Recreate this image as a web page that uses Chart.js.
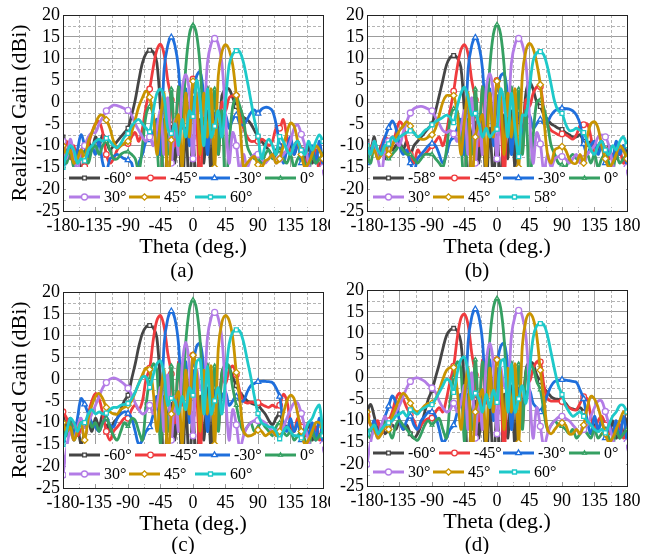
<!DOCTYPE html>
<html>
<head>
<meta charset="utf-8">
<script src="https://cdn.jsdelivr.net/npm/chart.js@4.4.1/dist/chart.umd.min.js"></script>
<style>
    body { margin: 0; background: #fff; width: 648px; height: 554px; position: relative; overflow: hidden;
           font-family: 'Liberation Serif', 'Times New Roman', serif; }
    canvas { position: absolute; }
    .cap { position: absolute; font-size: 21px; transform: translate(-50%, -50%); color: #000; }
</style>
</head>
<body>
<canvas id="chartA" width="330" height="260" style="left:0;top:0"></canvas>
<canvas id="chartB" width="318" height="260" style="left:330px;top:0"></canvas>
<canvas id="chartC" width="330" height="260" style="left:0;top:277px"></canvas>
<canvas id="chartD" width="318" height="260" style="left:330px;top:275px"></canvas>
<div class="cap" style="left:182px;top:270px">(a)</div>
<div class="cap" style="left:477px;top:270px">(b)</div>
<div class="cap" style="left:183px;top:544px">(c)</div>
<div class="cap" style="left:477px;top:544px">(d)</div>
<script>
// theta grid (deg.)
const theta = [-180,-175,-170,-165,-160,-155,-150,-145,-140,
    -135,-130,-125,-120,-115,-110,-105,-100,-95,
    -90,-85,-80,-75,-70,-65,-60,-55,-50,
    -45,-40,-35,-30,-25,-20,-15,-10,-5,
    0,5,10,15,20,25,30,35,40,
    45,50,55,60,65,70,75,80,85,
    90,95,100,105,110,115,120,125,130,
    135,140,145,150,155,160,165,170,175,
    180];

const labelsStd = ['-60°', '-45°', '-30°', '0°', '30°', '45°', '60°'];
const labelsB = ['-58°', '-45°', '-30°', '0°', '30°', '45°', '58°'];

// (a)
const a_m60 = [-8,-12,-9,-14,-11,-16,-12,-9,-11, -8,-10,-7.5,-9,-11,-10,-9,-8,-7, -6,-3,0.5,5,9,11.2,11.9,11.5,9, -2,-22,-9,-5,-14,-4,-22,-6,-20, -8,-22,-4,-14,-2,-16,0,-9,1.5, 3,3,1,-1,-2.5,-3.5,-4,-5,-6.5, -8,-9,-10,-11,-12,-11,-10,-12,-11, -10,-12,-10,-11,-13,-10,-14,-11,-15, -12];
const a_m45 = [-11,-9,-13,-10,-14,-12,-14.8,-10,-7, -5,-4.5,-7,-12,-14,-13,-11,-10,-9.5, -9.5,-8,-7,-9,-6,-1,3,8,12, 13.3,11,5,0.5,-10,3.5,-6,2,-6, 5.3,-4,-20,2,-10,-6,1,-12,0, -2,1,1.5,1.5,-3,-6,-8,-9,-9, -9,-8.5,-9,-10,-9,-6,-6,-4,-8, -12,-10,-9,-11,-14,-12,-13,-11,-16, -14];
const a_m30 = [-14,-12,-10,-14,-11,-7.5,-10,-13,-10, -12,-9,-14,-16,-13,-12.5,-12,-12.5,-13, -13.3,-14,-18,-14,-12,-9,-8.7,-7,-4, -12,7.5,13,14.9,13,7.5,-5,3,-10, 1.7,6,7,1,-12,-3,-2,-8,-4, -3,-6,-4,-3,-5,-5.2,-4,-2.5,-1.8, -2.6,-1.6,-1.2,-1.3,-2,-5,-10,-14,-11, -8,-12,-9,-14,-11,-13,-10,-14,-9, -15];
const a_0 = [-12,-14,-11,-15,-13,-11,-12,-14,-11, -10,-12,-10,-9,-11,-13,-13,-12,-11.5, -11.4,-12,-13,-16,-10,-3,-1,-3,-10, -20,-4,-12,3,-8,3.5,-5,8,15.5, 17.7,15.5,8,-5,3.5,-8,3,-12,-2, -20,-10,-1,1,-1,-4,-10,-12,-13, -13,-14,-12,-11,-13,-12,-11,-13,-14, -12,-15,-13,-12,-14,-16,-12,-14,-13, -12];
const a_30 = [-9,-13,-8.5,-12,-16,-11,-10,-8,-7, -7,-5,-3.5,-2,-1.2,-0.7,-0.8,-1.1,-1.5, -1.9,-3,-5,-6.5,-8,-9,-8,-10,-6, -2,-12,1,-14,-4,-12,3,6.3,2, -13,2,-2,-3,9,13.3,14.6,13.3,9, -3,-14,-7,-10,-16,-12,-15,-13,-12, -12,-13,-14,-13,-12,-14,-13,-12,-11, -9,-6,-5.2,-7.4,-10,-14,-17,-20,-18, -15];
const a_45 = [-10,-12,-11,-14,-13,-11,-13,-9,-7, -5,-3.2,-3,-4.1,-6,-9,-10.6,-10,-9.5, -9,-7,-4,-1,1,2.5,1.1,-3,-12, -4,2,-20,-8.7,-5,-3,-15,2,-8, 4.8,1,-12,2,-8,3,-15,6,11.5, 13.2,12,8.5,1.6,-5,-15,-14,-13,-12.5, -14.4,-15,-13.5,-13,-12,-14,-13,-10,-7, -4.8,-5.5,-9,-12,-15,-14,-12,-10,-11, -13];
const a_60 = [-15,-12,-10,-11,-14,-13,-13.5,-11,-10, -9,-8.5,-9,-8.3,-9,-10,-10.5,-9.5,-8, -7.2,-5.5,-4.5,-4,-5,-6,-6.8,-2,2, 3,1,-6,-7.2,-5,-10,-4,-8,-2, -3.3,5,0,-10,3,-8,-5.5,-2,-8, 0,8.5,11,11.8,11.5,9,5,0.5,-4, -7.8,-13,-10,-8.5,-10,-12,-7.9,-9,-11, -12,-10,-9,-11,-12,-9,-11,-9,-7.5, -9];

// (b)
const b_m58 = [-9,-11,-8,-12,-10,-13,-9,-11,-10, -9,-11,-9,-12,-10,-9,-8,-7,-6, -5,-2,1.5,5,8.5,10.2,10.7,10.2,8, -3,-20,-8,-4,-14,-3,-20,-6,-18, -7,-20,-3,-13,-2,-15,0,-8,2, 4.5,3,0,-1,-3,-4,-5,-5.5,-6, -6.3,-7,-7.5,-8,-8,-7.5,-9,-10,-9, -10,-11,-9,-12,-10,-13,-11,-12,-10, -12];
const b_m45 = [-10,-12,-9,-13,-10,-8,-9,-10,-7, -4.5,-5.5,-9,-12,-14,-11,-12,-12,-11, -10,-9,-8,-10,-7,-2,2.5,8,12, 13.2,11,5,0.5,-10,3.5,-6,2,-6, 5,-3,-18,2,-9,-5,1,-11,0.5, -1,2,3.5,3.5,-2,-5,-6.5,-7,-7.5, -7.3,-7.5,-8,-8.5,-7.5,-5.5,-5.2,-5,-8, -12,-10,-9,-11,-13,-12,-13,-11,-14, -13];
const b_m30 = [-14,-11,-10,-13,-11,-8,-5.9,-4.3,-6, -10,-12,-11,-14,-16,-13,-12,-11,-10, -9.5,-10,-12,-14,-12,-9,-8,-6,-4, -12,7.5,13,14.8,13,7.5,-5,3,-10, 2,6,6.5,1,-12,-3,-2,-8,-4, -3,-6,-5,-4,-5,-4.5,-3,-2,-1.6, -1.4,-1.5,-1.6,-2,-3,-5,-9.6,-12,-10, -9,-12,-10,-14,-11,-13,-9,-12,-10, -15];
const b_0 = [-12,-14,-10,-13,-12,-11,-13,-12,-11, -10,-11,-12,-12,-13,-14,-13,-12,-12, -12,-13,-14,-15,-11,-4,-1.5,-2,-9, -20,-4,-12,3,-8,3.5,-5,8,15.6, 17.8,15.6,8,-5,3.5,-8,3,-12,-2, -20,-8,0,0.5,-1.5,-5,-10,-12,-14, -14.4,-15,-13,-12,-13,-13.3,-13.3,-12,-14, -12,-15,-13,-12,-14,-16,-12,-14,-13, -12];
const b_30 = [-10,-12,-9,-13,-16,-11,-9,-8,-9, -10,-7,-4.5,-2.5,-1.5,-1.1,-1,-1.2,-1.6, -2,-3.5,-5,-6.5,-7,-6.5,-7.3,-9,-6, -2,-12,1,-14,-4,-12,3,6.5,2, -13,2,-2,-3,9,13.3,14.6,13.3,9, -3,-14,-7,-9.6,-16,-12,-15,-13,-12.5, -12.5,-13,-14,-13,-12,-14,-13,-12,-11, -10,-8,-7.5,-8,-10,-14,-17,-20,-18, -15];
const b_45 = [-10,-12,-11,-13,-12,-10,-12,-10,-8, -6.5,-5.5,-4.5,-5.5,-7,-8,-8.5,-8.5,-8, -7.5,-6,-3,0,1.5,1.5,1.5,-3,-12, -4,2,-20,-8,-5,-3,-15,2,-8, 4.8,1,-12,2,-8,3,-15,6,11.8, 13.5,12.3,9,4,-4,-12,-14,-11,-10.5, -10.2,-11,-13,-14,-14,-12,-14,-8,-5, -4.5,-6,-10,-13,-15,-14,-12,-10,-11, -13];
const b_58 = [-10,-12,-9,-11,-12,-10,-9.6,-8,-9, -8,-7.5,-7,-6.6,-7,-8,-7.5,-6.5,-6, -5.2,-4.5,-4,-3.5,-3,-3.5,-4.7,-1,2, 3.4,1,-3,-2.6,-5,-8,-6,-8,-7, -6.2,3,0,-8,2,-6,-12.5,-3,-3, 3,9.5,11.3,11.6,10.8,8,4,0,-2, -2.6,-5,-6.5,-6.5,-6,-6.5,-7,-9,-11, -12,-10,-9,-11,-12,-10,-11,-9,-8, -10];

// (c)
const c_m60 = [-8,-11,-9,-13,-11,-15,-12,-10,-12, -9,-11,-8,-10,-12,-10,-9,-7,-5, -3.7,0,3.5,7.5,10.5,12,12.3,11.8,9.5, -2,-22,-9,-5,-14,-4,-22,-6,-20, -8,-22,-4,-14,-2,-16,0,-9,1.5, 3,2.5,0.5,-1.5,-3,-4,-5,-5.5,-5.8, -6,-7,-8,-9.5,-10.5,-9,-8,-10,-11, -11,-12,-10,-11,-13,-10,-14,-11,-13, -12];
const c_m45 = [-7.5,-9,-12,-10,-13,-11.5,-11.5,-8,-5, -3.3,-4.5,-8,-12,-14,-12,-11,-10,-9, -9,-7,-6,-7,-5,0,2.5,9,13.5, 14.6,12,6,1.2,-10,4,-6,2,-6, 5.5,-3,-18,2,-9,-5,1,-11,0.5, -1,2,3,1,-3,-5,-5.5,-5.3,-5.4, -5.4,-5.8,-6.2,-6.5,-6,-6.5,-6,-3.5,-5, -10,-12,-9,-11,-13,-12,-13,-11,-14, -12];
const c_m30 = [-14,-12,-10,-13,-9,-4.5,-5.8,-8,-10, -11,-12,-10,-9,-10.5,-11,-9,-8,-7.5, -7.9,-9,-12,-15,-14,-12,-11,-8,-4, -12,8,13.8,15.6,13.8,8,-5,4,-10, 2.5,7.5,8.2,2,-12,-3,-2,-8,-4, -3,-6,-5,-4,-5,-5,-3,-1.5,-1, -0.6,-0.5,-0.5,-0.6,-0.8,-2,-4,-10,-12, -9,-12,-10,-14,-11,-13,-10,-14,-9, -15];
const c_0 = [-11,-13,-10,-14,-12,-10,-12,-9,-11, -10,-12,-10,-9,-11,-13,-14,-12,-10, -10.8,-9,-9.5,-12,-14,-6,0,3.5,2, -15,-4,-12,3,-8,3.5,-5,8.5,16, 18.2,16,8.5,-5,3.5,-8,3,-12,1, 3.5,3,-2,-6,-10,-12,-11,-10,-12, -11,-10,-11,-12,-13,-11,-10,-12,-13, -12,-14,-13,-12,-14,-16,-12,-14,-13, -12];
const c_30 = [-22,-16,-12,-14,-11,-9,-12,-10,-8, -6,-4,-2,-0.8,0,0.3,0,-0.5,-1.2, -2.1,-3.5,-5.5,-7,-8,-7.5,-6,-8,-6, -2,-12,1,-14,-4,-12,3,8.5,3, -13,2,-2,-3,9.5,14,15.3,14,9.5, -3,-14,-7,-10.5,-16,-13,-11,-10,-9.5, -9.5,-9.5,-10,-11,-12,-13,-12,-11,-9, -7,-5.5,-5.5,-7.9,-11,-14,-17,-20,-18, -15];
const c_45 = [-10,-12,-11,-14,-12,-10,-14,-9,-6, -4,-3.3,-4.5,-6.5,-7.5,-8,-8,-7,-6.5, -6,-5,-3,-1,1,2.5,2.2,-3,-12, -4,2,-20,-8,-5,-3,-15,2,-8, 5.5,1,-12,2,-8,3,-15,7,13, 14.6,13.5,9.5,1.5,-5,-12,-13,-13,-12.5, -11.7,-12,-13,-12.5,-12,-13,-12,-8,-5, -3.7,-4.5,-8,-12,-15,-14,-12,-10,-10, -11];
const c_60 = [-15,-12,-9,-10,-12,-10,-10,-8,-7, -8,-7.5,-8,-7.8,-7,-6.5,-6.5,-6,-5.8, -5.6,-4.5,-3,-1,0.5,0.5,-1.9,1,3.5, 4.2,1,-6,-4.4,-5,-8,-4,-7,-2, -3.7,4,4.5,-8,3,-8,-5,-2,-8, 0,8,10.8,11.3,11,8.5,4.5,0.5,-4, -7.9,-10,-10.5,-11,-11,-12,-13.7,-12,-11, -12,-13,-13,-13.5,-12,-10,-9,-7,-6, -13];

// (d)
const d_m60 = [-8,-6.3,-9,-12,-11,-13,-12,-11,-12, -10,-12,-11,-13,-14,-13,-11,-8,-5, -3,0,3,6.5,9.5,10.8,11.2,10.6,8, -3,-22,-9,-5,-14,-4,-22,-6,-20, -8,-22,-4,-14,-2,-16,0,-9,1.5, 3.5,3,0.5,-1,-2.5,-3.5,-4.5,-5,-5.1, -5.2,-6,-7,-7.3,-7.5,-7,-8,-10,-11, -11,-12,-10,-11,-13,-10,-14,-11,-13, -9];
const d_m45 = [-9,-11,-12,-10,-13,-11,-10,-8,-5, -3.7,-5,-7,-8.6,-10,-12,-11,-10,-9.5, -9.4,-8,-7,-8,-5,-1,2.5,9,13.5, 14.5,12,5.5,0.5,-10,4,-6,2,-6, 4,-3,-18,2,-9,-5,1,-11,0.5, -1,2,3.5,3.5,-2,-5,-5.5,-5.5,-5.5, -5.6,-6.5,-7,-7.5,-7.5,-6,-4.5,-5,-9, -12,-10,-9,-11,-13,-12,-13,-11,-14, -12];
const d_m30 = [-13,-12,-10,-13,-11,-9,-6.7,-4.3,-6, -10,-12,-10,-9,-11,-12,-10,-9,-8, -8,-9,-12,-15,-14,-12,-11,-8,-4, -12,8,13.8,15.6,13.8,8,-5,4,-10, 2.5,7,7.8,2,-12,-3,-2,-8,-4, -3,-6,-7,-8,-6,-4,-2,-1,-0.7, -0.6,-0.7,-0.8,-1,-1.2,-3,-5,-10,-13, -9,-12,-10,-14,-11,-13,-10,-14,-9, -15];
const d_0 = [-12,-14,-11,-13,-12,-10,-12,-14,-11, -10,-11,-12,-13,-14,-14.5,-13,-11,-10, -11,-10,-9.5,-12,-14,-6,0,3.5,2, -15,-4,-12,4,-8,3.5,-5,8.5,15.9, 18.1,15.9,8.5,-5,3.5,-8,3,-12,1, 3,2,-1,-2.9,-8,-12,-11,-10,-11, -11.3,-12,-13,-12,-14,-13,-12,-13,-14, -12,-14,-13,-12,-14,-16,-12,-14,-13, -12];
const d_30 = [-20,-15,-12,-14,-11,-9,-11,-10,-8, -6.5,-4.5,-2.5,-1,-0.3,-0.2,-0.5,-1,-1.8, -2.5,-3.5,-5.5,-7,-8,-7.5,-6,-8,-6, -2,-12,1,-14,-4,-12,3,7.8,3, -13,2,-2,-3,9.5,14,15.3,14,9.5, -3,-14,-7,-11.3,-16,-13,-11,-10,-9.2, -9,-9.5,-10,-11,-12,-13,-12,-11,-9, -7,-5.5,-5.5,-7.9,-11,-14,-17,-20,-18, -15];
const d_45 = [-8,-11,-12,-14,-13,-11,-12,-9,-7, -5,-3.7,-4.5,-6,-7.5,-8,-7.5,-6.5,-6, -6,-5,-3,-0.5,1.5,2.2,2.2,-3,-12, -4,2,-20,-8,-5,-3,-15,2,-8, 4,1,-12,2,-8,3,-15,7,13, 14.6,13.5,9.5,1.6,-5,-12,-13,-12,-11, -10.5,-11,-13,-13,-12,-13,-11,-7,-4.4, -5,-7,-10,-13,-15,-14,-12,-10,-8, -8];
const d_60 = [-13,-12,-11,-13,-12,-11,-10.5,-10,-9, -8.5,-8,-9,-7.5,-8,-8.5,-7.5,-7,-6.5, -6.3,-5,-3.5,-2,-0.5,-1,-3.5,1,4, 4.6,1,-5,-3.7,-5,-8,-4,-7,-3, -5.8,3.5,4,-8,3,-8,-5,-2,-6, 1.5,9,11.8,12.3,12,9.5,5.5,1.5,-2, -4,-6.5,-8,-9,-8.5,-8,-9,-10,-11, -12,-12.5,-12,-12.8,-11,-9,-8,-6.5,-6.5, -8];

const seriesColors = ['#454545', '#ef3b3e', '#1f6fdc', '#35a062', '#b37ce6', '#c99400', '#1ec9c9'];
const markerStyles = ['rect', 'circle', 'triangle', 'triangle', 'circle', 'rectRot', 'rect'];
const markerSizes = [2.6, 2.8, 3.2, 2.2, 3, 3.2, 2.8];
const FONT = "'Liberation Serif', 'Times New Roman', serif";

const panels = [
    { id: 'chartA', series: [a_m60, a_m45, a_m30, a_0, a_30, a_45, a_60], labels: labelsStd, yTitle: true, yWidth: 63, padRight: 7 },
    { id: 'chartB', series: [b_m58, b_m45, b_m30, b_0, b_30, b_45, b_58], labels: labelsB, yTitle: false, yWidth: 37, padRight: 21 },
    { id: 'chartC', series: [c_m60, c_m45, c_m30, c_0, c_30, c_45, c_60], labels: labelsStd, yTitle: true, yWidth: 63, padRight: 7 },
    { id: 'chartD', series: [d_m60, d_m45, d_m30, d_0, d_30, d_45, d_60], labels: labelsStd, yTitle: false, yWidth: 37, padRight: 21 }
];

// dashed minor grid between the major lines
const minorGrid = {
    id: 'minorGrid',
    beforeDatasetsDraw(chart) {
        const { ctx, chartArea: a, scales: { x, y } } = chart;
        ctx.save();
        ctx.strokeStyle = '#b4b4b4';
        ctx.lineWidth = 1;
        ctx.setLineDash([3, 2]);
        ctx.beginPath();
        for (let v = -157.5; v < 180; v += 45) {
            const px = Math.round(x.getPixelForValue(v)) + 0.5;
            ctx.moveTo(px, a.top); ctx.lineTo(px, a.bottom);
        }
        for (let v = -22.5; v < 20; v += 5) {
            const py = Math.round(y.getPixelForValue(v)) + 0.5;
            ctx.moveTo(a.left, py); ctx.lineTo(a.right, py);
        }
        ctx.stroke();
        ctx.restore();
    }
};

// legend box drawn inside the plot, over the curves
const insideLegend = {
    id: 'insideLegend',
    afterDatasetsDraw(chart, args, opts) {
        const { ctx, chartArea: a } = chart;
        const rows = [[0, 1, 2, 3], [4, 5, 6]];
        const cols = [[6, 72, 136, 202], [6, 66, 132]];
        const rowY = [163, 182];
        ctx.save();
        ctx.fillStyle = '#fff';
        ctx.fillRect(a.left + 3, a.top + 152, a.right - a.left - 4, 40);
        rows.forEach((row, r) => {
            row.forEach((s, j) => {
                const x0 = a.left + cols[r][j];
                const y = a.top + rowY[r];
                ctx.strokeStyle = seriesColors[s];
                ctx.lineWidth = 3;
                ctx.setLineDash([]);
                ctx.beginPath();
                ctx.moveTo(x0, y);
                ctx.lineTo(x0 + 31, y);
                ctx.stroke();
                ctx.fillStyle = '#fff';
                ctx.lineWidth = 1.3;
                Chart.helpers.drawPoint(ctx, { pointStyle: markerStyles[s], radius: markerSizes[s], rotation: 0, borderWidth: 1.3 }, x0 + 15.5, y);
                ctx.fillStyle = '#000';
                ctx.font = '16px ' + FONT;
                ctx.textBaseline = 'middle';
                ctx.textAlign = 'left';
                ctx.fillText(opts.labels[s], x0 + 35, y + 1);
            });
        });
        ctx.restore();
    },
    afterDraw(chart) {
        const { ctx, chartArea: a } = chart;
        ctx.save();
        ctx.strokeStyle = '#222';
        ctx.lineWidth = 1;
        ctx.strokeRect(Math.round(a.left) + 0.5, Math.round(a.top) + 0.5, Math.round(a.right - a.left), Math.round(a.bottom - a.top));
        ctx.restore();
    }
};

function makeChart(p) {
    const ctx = document.getElementById(p.id).getContext('2d');
    new Chart(ctx, {
        type: 'line',
        data: {
            datasets: p.series.map((vals, i) => ({
                label: p.labels[i],
                data: vals.map((v, k) => ({ x: theta[k], y: v })),
                borderColor: seriesColors[i],
                backgroundColor: '#fff',
                borderWidth: 2.8,
                pointStyle: markerStyles[i],
                pointRadius: c => (c.dataIndex % 6 === 0 ? markerSizes[i] : 0),
                pointBorderColor: seriesColors[i],
                pointBackgroundColor: '#fff',
                pointBorderWidth: 1.3,
                tension: 0.35,
                order: 6 - i,
                clip: 0
            }))
        },
        options: {
            responsive: false,
            animation: false,
            events: [],
            layout: { padding: { top: 15, right: p.padRight, bottom: 0, left: 0 } },
            plugins: {
                legend: { display: false },
                tooltip: { enabled: false },
                insideLegend: { labels: p.labels }
            },
            scales: {
                x: {
                    type: 'linear',
                    min: -180,
                    max: 180,
                    ticks: { stepSize: 45, color: '#000', font: { family: FONT, size: 18 }, padding: 4, maxRotation: 0, autoSkip: false },
                    grid: { color: '#9c9c9c', lineWidth: 1, drawTicks: false },
                    border: { display: true, color: '#222', width: 1 },
                    title: { display: true, text: 'Theta (deg.)', color: '#000', font: { family: FONT, size: 22 }, padding: 0 },
                    afterFit: s => { s.height = 49; s.paddingLeft = 0; s.paddingRight = 0; }
                },
                y: {
                    min: -25,
                    max: 20,
                    ticks: { stepSize: 5, color: '#000', font: { family: FONT, size: 18 }, padding: 3, autoSkip: false },
                    grid: { color: '#9c9c9c', lineWidth: 1, drawTicks: false },
                    border: { display: true, color: '#222', width: 1 },
                    title: { display: p.yTitle, text: 'Realized Gain (dBi)', color: '#000', font: { family: FONT, size: 22 }, padding: { top: 7, bottom: 0 } },
                    afterFit: s => { s.width = p.yWidth; s.paddingTop = 0; s.paddingBottom = 0; }
                }
            }
        },
        plugins: [minorGrid, insideLegend]
    });
}

panels.forEach(makeChart);
</script>
</body>
</html>
